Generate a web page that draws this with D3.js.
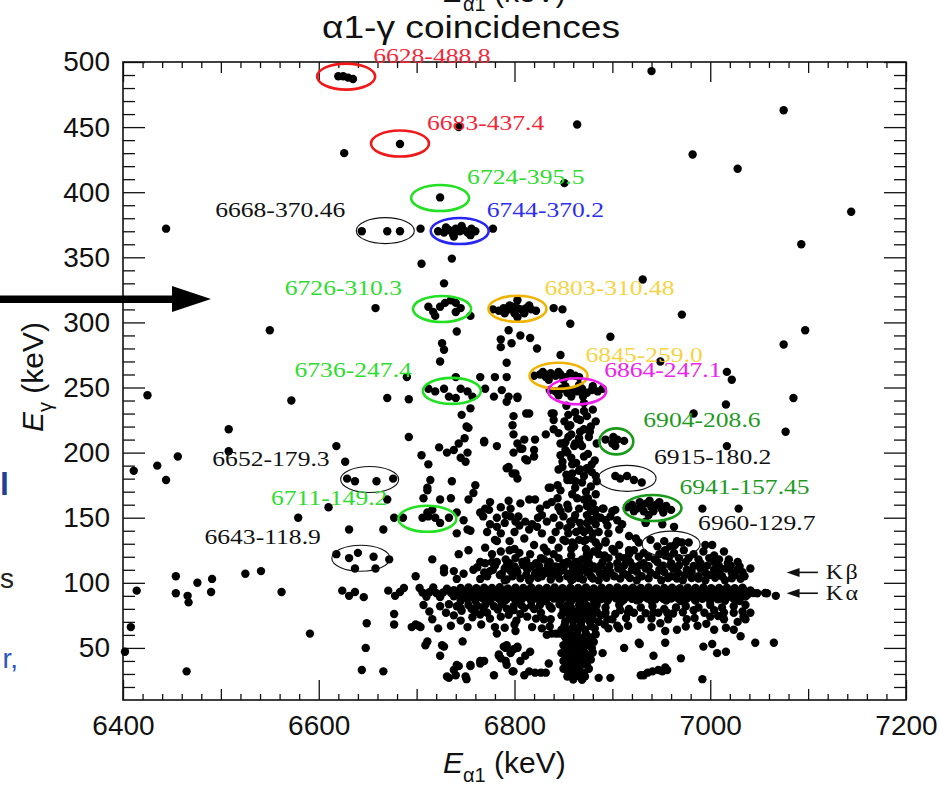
<!DOCTYPE html>
<html>
<head>
<meta charset="utf-8">
<script src="https://cdn.jsdelivr.net/npm/d3@7"></script>
<style>
  html, body { margin: 0; padding: 0; background: #fff; }
  svg { display: block; }
</style>
</head>
<body>
<svg id="chart" width="939" height="785"></svg>
<script>
// ---- tick values -------------------------------------------------------
const xTicks = [6400, 6600, 6800, 7000, 7200];
const yTicks = [50, 100, 150, 200, 250, 300, 350, 400, 450, 500];

// ---- peak annotations: "Eα1-Eγ" in keV ---------------------------------
const peakLabels = [
  "6628-488.8", "6683-437.4", "6724-395.5", "6668-370.46", "6744-370.2",
  "6726-310.3", "6803-310.48", "6845-259.0", "6864-247.1", "6736-247.4",
  "6904-208.6", "6652-179.3", "6915-180.2", "6711-149.2", "6941-157.45",
  "6960-129.7", "6643-118.9"
];

// ---- X-ray lines (Eγ, keV) ---------------------------------------------
const xrayNames = ["Kβ", "Kα"];
const xrayEnergies = [108, 92];

// ---- coincidence events [Eα1, Eγ] (keV) --------------------------------
const peakEvents = [
  [6620,489],[6625,489],[6630,488],[6635,487],
  [6683,437],
  [6724,396],
  [6644,370],[6670,370],[6683,370],
  [6722,370],[6728,369],[6733,371],[6737,368],[6740,372],[6744,370],[6748,371],[6752,369],[6756,372],[6760,370],[6730,373],[6746,374],[6738,366],[6755,367],
  [6712,312],[6717,308],[6724,312],[6729,315],[6735,317],[6740,315],[6745,311],[6719,305],[6755,305],[6740,308],
  [6778,310],[6784,309],[6789,311],[6794,310],[6798,312],[6803,311],[6807,310],[6812,311],[6817,310],[6822,309],[6790,307],[6800,307],[6810,307],[6803,317],[6803,304],[6795,313],[6815,313],
  [6820,259],[6826,260],[6832,258],[6837,261],[6842,259],[6847,260],[6852,258],[6857,261],[6862,259],[6866,258],[6829,262],[6845,262],[6835,256],[6850,256],
  [6836,248],[6842,247],[6848,249],[6854,246],[6859,248],[6864,247],[6869,249],[6874,246],[6879,248],[6885,247],[6890,249],[6845,244],[6858,243],[6870,243],[6852,251],[6866,252],[6880,251],
  [6712,249],[6719,247],[6728,249],[6733,243],[6740,242],[6745,249],[6752,247],[6757,243],[6740,258],
  [6893,210],[6900,207],[6905,210],[6912,209],[6901,212],[6903,205],
  [6903,182],[6908,180],[6915,182],[6922,179],[6930,177],
  [6915,158],[6920,160],[6925,157],[6930,159],[6935,161],[6940,158],[6945,160],[6950,157],[6955,159],[6960,156],[6922,155],[6932,155],[6942,155],[6952,154],[6928,162],[6938,163],[6948,162],[6937,152],
  [6629,180],[6637,178],[6659,178],[6676,180],
  [6686,150],[6706,150],[6712,151],[6719,150],[6733,150],[6711,154],[6716,156],[6724,146],
  [6946,128],[6953,132],[6959,128],[6964,129],[6971,131],[6978,131],[6954,125],[6939,133],[6966,132],
  [6618,122],[6631,119],[6640,123],[6656,120],[6637,111],[6658,111],[6672,118]
];

const isolatedEvents = [
  [6626,430],[6743,450],[6704,372],[6778,372],[6444,372],[6705,345],[6736,349],[6728,330],
  [6940,493],[7075,463],[6864,452],[6982,429],[7028,418],[6851,407],[7144,385],[7093,360],[6931,333],[6971,306],[7097,294],[6898,289],[7075,283],[7017,262],[7022,256],[6949,270],[7085,242],[7016,237],[6983,230],[7077,216],[7017,205],
  [6658,311],[6550,294],
  [6840,311],[6849,310],[6857,299],
  [6741,293],[6726,284],[6728,279],[6724,270],[6794,294],[6786,287],[6786,281],[6797,284],[6806,290],[6816,288],[6823,280],[6792,269],[6847,275],
  [6425,244],[6572,240],[6508,218],[6456,197],[6435,190],[6444,179],[6411,186],[6508,201],[6618,205],[6627,193],
  [6670,242],[6692,241],[6690,258],[6692,212],[6705,198],[6712,191],[6714,179],[6736,178],[6723,204],[6731,200],[6738,202],[6743,207],[6745,196],[6753,219],[6749,211],[6769,209],[6746,229],[6755,234],[6751,220],[6752,200],
  [6765,258],[6780,258],[6792,258],[6770,249],[6779,243],[6787,248],[6794,243],[6803,242],
  [6610,158],[6579,150],[6631,141],[6666,141],[6670,164],[6677,150],[6707,165],[6711,171],[6724,164],[6741,154],[6748,148],[6741,138],[6752,141],[6758,169],[6760,175],
  [6454,105],[6454,92],[6466,90],[6467,85],[6476,100],[6491,103],[6490,93],[6525,107],[6541,109],[6562,93],[6591,61],[6465,32],[6414,94],[6408,66],[6402,47],
  [6624,94],[6631,90],[6637,93],[6646,89],[6649,69],[6648,50],[6644,33],[6666,32],
  [6671,94],[6678,90],[6683,93],[6687,96],[6677,76],[6677,68],[6695,66],[6702,67],[6699,105],[6709,52],[6724,44],[6728,51],[6731,28],[6738,33],[6743,36],[6751,26],[6755,37],[6765,38],[6779,29],[6791,50],[6784,44],[6791,40],[6799,49],[6799,32],
  [7041,111],[7058,92],[7067,90],[7031,59],[7046,54],[7065,54],[6993,51],[7002,53],[7007,46],[7016,47],[6992,26],[6942,44],[6970,42],[6912,50],[6927,54],[6954,63],[6954,54],[6932,29],[6941,32],[6947,33],[6954,35],[6886,27],[6898,27],[6890,46],[6878,41],[6896,65],[6907,65],[7036,72],
  [6992,157],[7029,157],[6995,129],[7002,129],
  [6951,145],[6963,143],[6934,147],[6927,131],[6927,120],[6954,121],[6907,129]
];

const continuumEvents = [
  [6792,239],[6803,243],[6815,230],[6799,228],[6798,221],[6799,214],[6803,207],[6808,203],[6821,210],[6820,202],[6832,214],[6840,230],[6840,218],[6847,207],[6854,200],[6862,207],[6857,221],[6867,225],[6871,218],[6869,205],[6838,230],[6840,225],[6855,229],[6871,232],[6874,228],[6878,220],[6855,220],[6845,215],[6855,212],[6867,216],[6876,212],[6810,210],[6769,208],[6782,205],[6806,203],[6820,197],[6799,200],[6813,194],[6801,184],[6792,188],[6850,207],[6852,202],[6847,198],[6861,205],[6867,207],[6849,189],[6859,184],[6867,187],[6874,188],[6879,191],[6844,175],[6857,179],[6871,182],[6884,178],[6847,171],[6835,173],[6812,230],[6750,193],[6794,189],[6811,195],[6849,193],[6859,191],[6871,197],[6875,188],[6798,184],[6803,180],[6845,187],[6854,179],[6862,178],[6869,177],[6711,173],[6837,173],[6862,173],[6873,170],[6878,174],
  [6735,165],[6753,164],[6794,163],[6815,164],[6821,164],[6833,160],[6844,165],[6864,165],[6875,165],
  [6765,154],[6774,156],[6782,150],[6782,143],[6791,152],[6796,157],[6801,147],[6804,151],[6811,147],[6815,141],[6823,143],[6828,152],[6833,147],[6840,150],[6847,155],[6855,157],[6857,147],[6867,146],[6874,152],[6863,139],[6871,139],[6755,140],
  [6775,162],[6806,161],[6838,162],[6880,161],[6770,157],[6786,158],[6826,157],[6845,158],[6890,157],[6903,156],[6768,151],[6796,151],[6824,150],[6850,151],[6862,152],[6888,150],[6898,151],[6775,145],[6790,146],[6805,144],[6818,145],[6846,144],[6858,145],[6883,145],[6895,144],[6910,145],[6772,139],[6786,138],[6800,139],[6828,138],[6842,139],[6855,138],[6880,138],[6780,133],[6795,132],[6810,134],[6838,133],[6852,132],[6866,133],[6893,132],[6770,127],[6800,126],[6830,127],[6845,127],[6858,126],[6886,128],[6900,126],
  [6782,132],[6786,124],[6820,129],[6833,124],[6850,133],[6859,131],[6871,132],[6743,122],[6753,125],[6765,116],[6777,116],[6791,118],[6801,119],[6816,122],[6827,119],[6840,122],[6854,116],[6864,116],[6874,122],[6716,118],[6728,111],
  [6876,187],[6883,182],[6874,159],[6883,156],[6891,157],[6900,155],[6905,148],[6893,148],[6879,148],[6876,141],[6886,139],[6896,138],[6907,141],[6917,136],[6924,134],[6934,146],[6873,133],[6883,131],[6893,131],[6917,125],
  [6876,120],[6886,122],[6896,119],[6907,120],[6917,122],[6937,120],[6948,122],[6958,120],[6968,119],[6978,119],[6988,118],[6999,119],[7009,118],[7019,118],[7028,116],
  // vertical streak around Eα1 ≈ 6850-6885 keV
  [6853,236],[6871,238],[6862,231],[6880,233],[6851,224],[6864,226],[6883,224],[6858,214],[6877,216],[6852,208],[6866,211],[6884,207],[6858,196],[6875,199],[6863,192],[6882,194],[6853,183],[6866,186],[6879,185],[6859,168],[6871,164],[6883,168],[6854,160],[6866,157],[6878,155],[6861,149],[6874,146],[6884,151],[6854,142],[6868,141],[6879,134],[6861,128],[6873,126],[6884,124],
  // band 117-128 keV
  [6845,119],[6858,121],[6869,118],[6881,124],[6892,121],[6902,124],[6912,119],[6922,125],[6932,123],[6943,118],[6953,124],[6963,123],[6973,125],[6983,122],[6993,124],[7004,121],[7014,124],[6805,123],[6812,117],[6830,118],[6795,125],[6777,122]
];

const kBetaEvents = [
  [6728,108],[6738,109],[6748,107],[6758,110],[6741,103],
  [6769,108],[6775,109],[6787,107],[6796,109],[6803,108],[6813,110],[6821,107],[6830,109],[6838,108],[6848,110],[6856,107],[6864,109],[6874,108],
  [6765,103],[6792,102.5],[6816,103],[6837,102.5],[6860,103],[6870,102.5],
  [6762,112],[6780,113],[6800,112],[6825,113],[6845,112],[6866,113],
  [6770,115],[6782,116],[6795,115],[6808,116],[6822,115],[6836,116],[6850,115],[6862,116],[6876,115],[6890,116],[6905,115],[6918,116],[6932,115],[6946,116],[6960,115],[6975,116],[6990,115],[7004,116],[7018,115],
  [6778,110],[6790,111],[6802,110],[6814,111],[6826,110],[6838,111],[6850,110],[6860,111],[6870,110],[6882,111],[6894,110],[6906,111],[6920,110],[6934,111],[6948,110],[6962,111],[6976,110],[6990,111],[7004,110],[7016,111],[7028,110],
  [6772,105],[6785,106],[6798,105],[6812,106],[6828,105],[6842,106],[6854,105],[6866,106],[6878,105],[6890,106],[6902,105],[6915,106],[6930,105],[6945,106],[6960,105],[6974,106],[6988,105],[7000,106],[7012,105],[7025,106],[7035,105],
  [6790,102],[6815,102],[6858,102],[6886,102],[6925,102],[6950,102],[6972,102],[6995,102],[7015,102],
  [6792,113.2],[6800,112.6],[6809,113.4],[6817,112.8],[6834,113.1],[6842,112.5],[6851,113.3],[6859,112.8],[6873,113.1],[6881,112.6],[6888,113.4],[6897,112.9],[6912,113.2],[6921,112.7],[6928,113.5],[6937,112.8],[6952,113.1],[6960,112.6],[6968,113.3],[6983,112.9],[6997,113.2],[7009,112.7],[7021,113.1],[7030,112.6],
  [6822,108.2],[6834,107.6],[6846,108.4],[6861,107.8],[6876,108.3],[6887,107.7],[6898,108.1],[6911,107.6],[6925,108.4],[6939,107.8],[6953,108.2],[6967,107.7],[6981,108.3],[6995,107.8],[7009,108.1],[7022,107.6],[7033,108.2],
  [6806,103.4],[6824,103.8],[6846,103.2],[6866,103.6],[6880,103.3],[6894,103.8],[6908,103.2],[6918,103.6],[6937,103.4],[6957,103.7],[6966,103.2],[6981,103.6],[6988,103.3],[7005,103.8],[7022,103.4],[7031,103.1]
];

const kAlphaEvents = [
  [6703,96],[6717,96.5],[6731,95.5],[6745,96],[6753,96.5],[6761,95.8],[6769,96.3],[6777,96],[6785,96.6],[6793,95.7],[6801,96.2],[6809,96],[6817,96.5],[6825,95.6],[6833,96.1],[6841,96.4],[6849,95.8],[6857,96.3],[6865,96],[6873,96.5],[6881,95.7],[6889,96.2],[6897,96],[6905,96.4],[6913,95.8],[6921,96.2],[6929,96],[6937,96.5],[6945,95.7],[6953,96.1],[6961,96.3],[6969,95.9],[6977,96.2],[6985,96],[6993,96.4],[7001,95.8],[7009,96.1],[7017,96.3],[7025,95.9],[7033,96.2],
  [6706,92.5],[6713,92.8],[6720,92.2],[6727,92.6],[6735,92.4],[6742,92.9],[6749,92.3],[6757,92.6],[6765,92.5],[6773,92.2],[6781,92.8],[6789,92.4],[6797,92.6],[6805,92.3],[6813,92.7],[6821,92.5],[6829,92.2],[6837,92.8],[6845,92.4],[6853,92.6],[6861,92.3],[6869,92.7],[6877,92.5],[6885,92.2],[6893,92.8],[6901,92.4],[6909,92.6],[6917,92.3],[6925,92.7],[6933,92.5],[6941,92.2],[6949,92.8],[6957,92.4],[6965,92.6],[6973,92.3],[6981,92.7],[6989,92.5],[6997,92.2],[7005,92.8],[7013,92.4],[7021,92.6],[7029,92.3],[7037,92.5],[7044,92.2],
  [6710,89.3],[6724,89],[6738,89.6],[6748,89.2],[6756,89.5],[6764,89.1],[6772,89.4],[6780,89.7],[6788,89.2],[6796,89.5],[6804,89],[6812,89.4],[6820,89.6],[6828,89.2],[6836,89.5],[6844,89.1],[6852,89.4],[6860,89.7],[6868,89.2],[6876,89.5],[6884,89],[6892,89.4],[6900,89.6],[6908,89.2],[6916,89.5],[6924,89.1],[6932,89.4],[6940,89.7],[6948,89.2],[6956,89.5],[6964,89],[6972,89.4],[6980,89.6],[6988,89.2],[6996,89.5],[7004,89.1],[7012,89.4],[7020,89.7],[7028,89.2],[7036,89.5],
  [6745,86],[6760,86.4],[6775,85.8],[6790,86.2],[6805,86],[6818,86.5],[6832,85.9],[6846,86.3],[6858,86],[6870,86.4],[6882,85.8],[6895,86.2],[6910,86],[6925,86.5],[6940,85.9],[6955,86.3],[6970,86],[6985,86.4],[7000,85.8],[7015,86.2],[7030,86],
  [7048,92],[7056,92.2],
  [6738,94.4],[6746,94.1],[6754,94.6],[6762,94.2],[6770,94.5],[6778,94],[6786,94.4],[6794,94.7],[6802,94.1],[6810,94.5],[6818,94.2],[6826,94.6],[6834,94],[6842,94.4],[6850,94.7],[6858,94.2],[6866,94.5],[6874,94.1],[6882,94.4],[6890,94.6],[6898,94.1],[6906,94.5],[6914,94.2],[6922,94.6],[6930,94],[6938,94.4],[6946,94.7],[6954,94.2],[6962,94.5],[6970,94.1],[6978,94.4],[6986,94.6],[6994,94.1],[7002,94.5],[7010,94.2],[7018,94.6],[7026,94],[7034,94.4],[7041,94.2],
  [6742,90.9],[6750,90.6],[6758,91.1],[6766,90.7],[6774,91],[6782,90.5],[6790,90.9],[6798,91.2],[6806,90.6],[6814,91],[6822,90.7],[6830,91.1],[6838,90.5],[6846,90.9],[6854,91.2],[6862,90.7],[6870,91],[6878,90.6],[6886,90.9],[6894,91.1],[6902,90.6],[6910,91],[6918,90.7],[6926,91.1],[6934,90.5],[6942,90.9],[6950,91.2],[6958,90.7],[6966,91],[6974,90.6],[6982,90.9],[6990,91.1],[6998,90.6],[7006,91],[7014,90.7],[7022,91.1],[7030,90.5],[7038,90.9],
  [6752,87.7],[6760,87.4],[6768,87.9],[6776,87.5],[6784,87.8],[6792,87.3],[6800,87.7],[6808,88],[6816,87.4],[6824,87.8],[6832,87.5],[6840,87.9],[6848,87.3],[6856,87.7],[6864,88],[6872,87.5],[6880,87.8],[6888,87.4],[6896,87.7],[6904,87.9],[6912,87.4],[6920,87.8],[6928,87.5],[6936,87.9],[6944,87.3],[6952,87.7],[6960,88],[6968,87.5],[6976,87.8],[6984,87.4],[6992,87.7],[7000,87.9],[7008,87.4],[7016,87.8],[7024,87.5]
];

const lowerEvents = [
  [6707,83],[6724,82],[6733,83.5],[6741,82],[6753,83],[6762,82.5],[6770,83],[6779,82],[6787,83.5],[6799,82],[6807,83],[6817,82.5],[6826,83],[6836,82],[6846,83.5],[6857,82],[6866,83],[6874,82.5],
  [6713,78],[6730,77],[6746,78.5],[6760,77.5],[6772,77],[6786,74],[6799,79],[6813,74],[6827,77],[6837,72],[6850,78],[6862,77.5],[6875,78],
  [6716,72],[6745,71],[6775,72.5],[6802,71],[6830,72],[6852,70],[6868,71],[6880,72],
  [6704,66],[6722,65],[6752,66],[6790,65.5],[6818,66],[6848,64],[6856,64],[6864,64],[6872,64],[6882,65],
  [6850,80],[6858,80.5],[6866,79.5],[6874,80],[6882,80.5],[6848,75],[6856,75.5],[6864,74.5],[6872,75],[6880,75.5],[6888,75],[6852,70],[6860,70.5],[6868,69.5],[6877,70],[6852,58],[6860,58.5],[6868,57.5],[6878,58],[6850,52],[6858,52.5],[6866,51.5],[6874,52],[6848,46],[6856,46.5],[6864,45.5],[6872,46],[6880,46.5],[6852,40],[6862,40.5],[6870,40],[6850,34],[6858,34.5],[6866,33.5],[6876,34],[6854,28],[6864,28.5],[6872,28],
  [6895,72],[6905,67],[6976,72],[6987,67],[7000,74],[7004,64],[7014,72],[7024,64],[7034,74],[7041,77],[7024,77],[7004,79],[6983,79],[6956,77],[6942,77],[6922,77],[6908,79],[6929,72],[6949,69],[6966,64],
  [6879,82],[6893,81],[6907,83],[6917,80],[6929,81],[6941,82],[6953,80],[6965,81],[6975,82],[6988,81],[7000,83],[7012,81],[7024,82],[7036,83],
  [6782,61],[6816,47],[6833,60],
  [6699,68],[6711,55],[6726,52],[6747,55],[6792,52],[6803,50],[6811,44],[6784,45],[6842,61],[6850,60],[6859,55],[6864,50],[6874,55],[6871,45],[6741,37],[6755,36],[6765,40],[6740,29],[6733,27],[6750,28],[6786,42],[6792,37],[6798,32],[6810,29],[6821,31],[6832,31],[6850,40],[6862,35],[6871,31],[6859,29],
  [6835,38],[6827,31],[6815,32],[6806,40],[6796,46],[6769,40],[6803,51],[6789,51],[6845,61],[6854,64],[6861,59],[6867,56],[6871,51],[6838,61],[6801,63],[6928,53],[6929,29],[6936,31],[6951,32],[6956,33],[6874,41],[6867,36],[6857,41],[6864,31],
  // denser column around Eα1 ≈ 6850-6885 keV
  [6854,83],[6869,84],[6884,83],[6853,77.5],[6868,77],[6884,78],[6856,72.5],[6872,72.8],[6886,70],[6851,67],[6860,66.5],[6868,67.2],[6878,66.8],[6856,61],[6864,61.5],[6873,61],[6883,60.5],[6855,55],[6863,55.4],[6881,54.6],[6854,49],[6862,48.5],[6870,49.2],[6879,50],[6852,43],[6860,43.4],[6868,43],[6877,43.6],[6856,37],[6865,37.5],[6874,37],[6855,31],[6863,30.6],[6869,25.5],[6860,25.8],
  // extra events just below the Kα band
  [6745,80.5],[6756,80],[6768,80.4],[6783,79.5],[6792,80.2],[6810,80.6],[6820,79.8],[6838,80.3],[6893,77],[6903,76],[6916,77.4],[6934,76.6],[6947,77],[6962,76.4],[6972,77.4],[6994,77],[7014,77.2],[7033,78],
  [6738,75],[6757,73.5],[6765,75.6],[6794,75.4],[6806,76],[6822,72.5],[6900,72],[6914,73],[6940,72.5],[6957,72],[6984,73],[7008,74.5],[7028,70],
  [6735,67],[6766,68],[6780,66],[6800,68],[6828,65],[6836,66.5],[6892,68],[6916,67],[6940,66],[6975,66.5],[6996,68.5],[7016,65.5]
];

// ---- styling -----------------------------------------------------------
const palette = {
  red:       { stroke: "#f01818", text: "#f2283a", width: 2.6 },
  green:     { stroke: "#22e022", text: "#30dc30", width: 2.6 },
  blue:      { stroke: "#2626f0", text: "#2e2eee", width: 2.6 },
  gold:      { stroke: "#f0b400", text: "#f5d443", width: 2.6 },
  magenta:   { stroke: "#ee1cee", text: "#ee22ee", width: 2.6 },
  darkgreen: { stroke: "#1a9a1a", text: "#1f9a1f", width: 2.6 },
  black:     { stroke: "#111111", text: "#111111", width: 1.1 }
};
const peakColour = {
  "6628-488.8": "red", "6683-437.4": "red", "6724-395.5": "green",
  "6668-370.46": "black", "6744-370.2": "blue", "6726-310.3": "green",
  "6803-310.48": "gold", "6845-259.0": "gold", "6864-247.1": "magenta",
  "6736-247.4": "green", "6904-208.6": "darkgreen", "6652-179.3": "black",
  "6915-180.2": "black", "6711-149.2": "green", "6941-157.45": "darkgreen",
  "6960-129.7": "black", "6643-118.9": "black"
};
const leftSideLabels = new Set(["6668-370.46", "6726-310.3", "6736-247.4",
  "6652-179.3", "6711-149.2", "6643-118.9"]);
const narrowRings = new Set(["6904-208.6"]);

const SANS = "'Liberation Sans', Arial, Helvetica, sans-serif";
const SERIF = "'Liberation Serif', 'Times New Roman', Times, serif";

// ---- layout ------------------------------------------------------------
const svg = d3.select("#chart");
const plot = { left: 123, right: 906, top: 62, bottom: 700 };

const x = d3.scaleLinear().domain([6400, 7200]).range([plot.left, plot.right]);
const y = d3.scaleLinear().domain([10, 500]).range([plot.bottom, plot.top]);

// ---- axes (ticks point inward on all four sides) -----------------------
const xMedium = d3.range(6500, 7200, 200);
const xMinor = d3.range(6420, 7200, 20).filter(v => v % 100 !== 0);
const yMinor = d3.range(20, 500, 10).filter(v => v % 50 !== 0);

function styleAxis(g, labels) {
  g.select(".domain").remove();
  g.selectAll(".tick line").attr("stroke", "#111").attr("stroke-width", 1.3);
  if (labels) {
    g.selectAll(".tick text")
      .attr("font-family", SANS).attr("font-size", 28).attr("fill", "#111");
  } else {
    g.selectAll(".tick text").remove();
  }
}

const axes = svg.append("g").attr("class", "axes");

// bottom
axes.append("g").attr("transform", `translate(0,${plot.bottom})`)
  .call(d3.axisBottom(x).tickValues(xTicks).tickSize(-20).tickPadding(15).tickFormat(d3.format("d")))
  .call(g => styleAxis(g, true));
axes.append("g").attr("transform", `translate(0,${plot.bottom})`)
  .call(d3.axisBottom(x).tickValues(xMedium).tickSize(-11))
  .call(g => styleAxis(g, false));
axes.append("g").attr("transform", `translate(0,${plot.bottom})`)
  .call(d3.axisBottom(x).tickValues(xMinor).tickSize(-6))
  .call(g => styleAxis(g, false));
// top
axes.append("g").attr("transform", `translate(0,${plot.top})`)
  .call(d3.axisTop(x).tickValues(xTicks).tickSize(-20))
  .call(g => styleAxis(g, false));
axes.append("g").attr("transform", `translate(0,${plot.top})`)
  .call(d3.axisTop(x).tickValues(xMedium).tickSize(-11))
  .call(g => styleAxis(g, false));
axes.append("g").attr("transform", `translate(0,${plot.top})`)
  .call(d3.axisTop(x).tickValues(xMinor).tickSize(-6))
  .call(g => styleAxis(g, false));
// left
axes.append("g").attr("transform", `translate(${plot.left},0)`)
  .call(d3.axisLeft(y).tickValues(yTicks).tickSize(-22).tickPadding(13).tickFormat(d3.format("d")))
  .call(g => styleAxis(g, true));
axes.append("g").attr("transform", `translate(${plot.left},0)`)
  .call(d3.axisLeft(y).tickValues(yMinor).tickSize(-12))
  .call(g => styleAxis(g, false));
// right
axes.append("g").attr("transform", `translate(${plot.right},0)`)
  .call(d3.axisRight(y).tickValues(yTicks).tickSize(-22))
  .call(g => styleAxis(g, false));
axes.append("g").attr("transform", `translate(${plot.right},0)`)
  .call(d3.axisRight(y).tickValues(yMinor).tickSize(-12))
  .call(g => styleAxis(g, false));

// frame
svg.append("rect")
  .attr("x", plot.left).attr("y", plot.top)
  .attr("width", plot.right - plot.left).attr("height", plot.bottom - plot.top)
  .attr("fill", "none").attr("stroke", "#111").attr("stroke-width", 1.6);

// ---- events ------------------------------------------------------------
const allEvents = [].concat(isolatedEvents, continuumEvents, lowerEvents,
  kBetaEvents, kAlphaEvents, peakEvents);

svg.append("g").attr("class", "events")
  .selectAll("circle").data(allEvents).join("circle")
  .attr("cx", d => x(d[0]))
  .attr("cy", d => y(d[1]))
  .attr("r", 4.2)
  .attr("fill", "#000");

// ---- peak rings and labels ---------------------------------------------
const peaks = peakLabels.map(label => {
  const [ea, eg] = label.split("-").map(Number);
  return { label, ea, eg, style: palette[peakColour[label]] };
});

svg.append("g").attr("class", "rings")
  .selectAll("ellipse").data(peaks).join("ellipse")
  .attr("cx", d => x(d.ea))
  .attr("cy", d => y(d.eg))
  .attr("rx", d => narrowRings.has(d.label) ? 17 : 29)
  .attr("ry", 13)
  .attr("fill", "none")
  .attr("stroke", d => d.style.stroke)
  .attr("stroke-width", d => d.style.width);

svg.append("g").attr("class", "peak-labels")
  .selectAll("g").data(peaks).join("g")
  .attr("transform", d => {
    const left = leftSideLabels.has(d.label);
    const tx = x(d.ea) + (left ? -40 : 27);
    const ty = y(d.eg) - 14;
    return `translate(${tx},${ty}) scale(1.22,1)`;
  })
  .append("text")
  .attr("text-anchor", d => leftSideLabels.has(d.label) ? "end" : "start")
  .attr("font-family", SERIF)
  .attr("font-size", 21)
  .attr("fill", d => d.style.text)
  .text(d => d.label);

// ---- X-ray markers -------------------------------------------------------
const xray = svg.append("g").attr("class", "xray");
xrayNames.forEach((name, i) => {
  const yy = y(xrayEnergies[i]);
  const tip = x(7078), tail = x(7110);
  xray.append("line")
    .attr("x1", tip + 8).attr("x2", tail).attr("y1", yy).attr("y2", yy)
    .attr("stroke", "#111").attr("stroke-width", 1.6);
  xray.append("path")
    .attr("d", `M${tip},${yy} L${tip + 13},${yy - 4.5} L${tip + 13},${yy + 4.5} Z`)
    .attr("fill", "#111");
  xray.append("g")
    .attr("transform", `translate(${x(7118)},${yy + 7}) scale(1.2,1)`)
    .append("text")
    .attr("font-family", SERIF).attr("font-size", 20).attr("fill", "#111")
    .attr("letter-spacing", 2)
    .text(name);
});

// ---- titles ------------------------------------------------------------
svg.append("text")
  .attr("x", 322).attr("y", 38)
  .attr("font-family", SANS).attr("font-size", 32).attr("fill", "#111")
  .attr("textLength", 298).attr("lengthAdjust", "spacingAndGlyphs")
  .text("α1-γ coincidences");

function alphaLabel(sel) {
  sel.attr("font-family", SANS).attr("font-size", 30).attr("fill", "#111");
  sel.append("tspan").attr("font-style", "italic").text("E");
  sel.append("tspan").attr("font-size", 20).attr("dy", 9).text("α1");
  sel.append("tspan").attr("dy", -9).text(" (keV)");
}
svg.append("text").attr("x", 443).attr("y", 773).call(alphaLabel);
// the same axis title from the panel above, cut by the top edge
svg.append("text").attr("x", 443).attr("y", 2).call(alphaLabel);

const yTitle = svg.append("text")
  .attr("transform", "translate(43,377) rotate(-90)")
  .attr("text-anchor", "middle")
  .attr("font-family", SANS).attr("font-size", 30).attr("fill", "#111");
yTitle.append("tspan").attr("font-style", "italic").text("E");
yTitle.append("tspan").attr("font-size", 20).attr("dy", 9).text("γ");
yTitle.append("tspan").attr("dy", -9).text(" (keV)");

// ---- slide decorations on the left -----------------------------------------
svg.append("path")
  .attr("d", "M0,295.5 H172 V286 L211,299 L172,312 V303 H0 Z")
  .attr("fill", "#000");

svg.append("text").attr("x", 9).attr("y", 495).attr("text-anchor", "end")
  .attr("font-family", SANS).attr("font-size", 32).attr("font-weight", "bold")
  .attr("fill", "#1f3c96").text("l");
svg.append("text").attr("x", 14).attr("y", 588).attr("text-anchor", "end")
  .attr("font-family", SANS).attr("font-size", 28).attr("fill", "#222").text("s");
svg.append("text").attr("x", 18).attr("y", 668).attr("text-anchor", "end")
  .attr("font-family", SANS).attr("font-size", 28).attr("fill", "#2a55c0").text("r,");
</script>
</body>
</html>
